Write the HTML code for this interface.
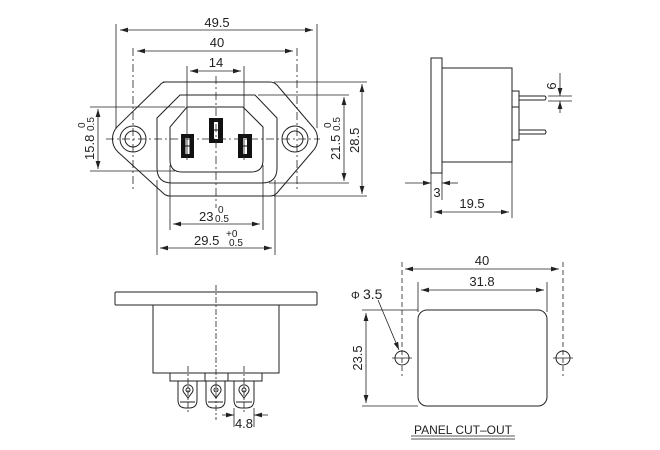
<!DOCTYPE html>
<html><head><meta charset="utf-8"><style>
html,body{margin:0;padding:0;background:#fff}
svg{display:block}
text{font-family:"Liberation Sans",sans-serif;fill:#222}
</style></head><body>
<svg width="660" height="450" viewBox="0 0 660 450" xmlns="http://www.w3.org/2000/svg">
<defs>
<marker id="a" viewBox="0 0 10 6" refX="10" refY="3" markerWidth="8" markerHeight="5" orient="auto-start-reverse" markerUnits="userSpaceOnUse"><path d="M0,0 L10,3 L0,6 z" fill="#222"/></marker>
</defs>
<g stroke="#222" stroke-width="1" fill="none">
<path d="M163,82 L270,82 Q274,82 277,85 L312,126 A18,18 0 0 1 312,152 L277,193 Q274,196 270,196 L170,196 Q166,196 163,193 L118,152 A18,18 0 0 1 118,126 L160,85 Q162,82 166,82 Z"/>
<path d="M180,95 L255,95 L277,118 L277,168 Q277,183 262,183 L172,183 Q157,183 157,168 L157,118 Z"/>
<path d="M187,107 L243,107 L263,127 L263,160 Q263,172 251,172 L182,172 Q170,172 170,160 L170,127 Z"/>
<circle cx="133" cy="139" r="13"/><circle cx="133" cy="139" r="8"/>
<circle cx="295" cy="139" r="13"/><circle cx="295" cy="139" r="8"/>
</g>
<g fill="#111">
<rect x="209" y="118" width="14" height="25"/>
<rect x="181" y="134" width="13" height="24"/>
<rect x="238" y="134" width="14" height="24"/>
</g>
<g fill="#fff"><rect x="214" y="122" width="4" height="17"/><rect x="185.5" y="138" width="4" height="16"/><rect x="243" y="138" width="4" height="16"/></g>
<g stroke="#111" stroke-width="1"><path d="M214,130 L218,130 M185.5,146 L189.5,146 M243,146 L247,146"/></g>
<g stroke="#222" stroke-width="0.8" fill="none">
<path d="M106,139 L320,139" stroke-dasharray="8,3,2,3"/>
<path d="M216,76 L216,208" stroke-dasharray="8,3,2,3"/>
<path d="M133,48 L133,190" stroke-dasharray="8,3,2,3"/>
<path d="M297,48 L297,190" stroke-dasharray="8,3,2,3"/>
<path d="M116,24 L116,128 M317,24 L317,128"/>
<path d="M187,66 L187,160 M244,66 L244,160"/>
<path d="M90,107 L185,107 M90,171 L175,171"/>
<path d="M258,95 L349,95 M269,183 L349,183"/>
<path d="M274,82 L367,82 M274,196 L367,196"/>
<path d="M170,165 L170,230 M263,165 L263,230"/>
<path d="M157,180 L157,255 M275,180 L275,255"/>
<path d="M120,30 L313,30" marker-start="url(#a)" marker-end="url(#a)"/>
<path d="M137,51 L293,51" marker-start="url(#a)" marker-end="url(#a)"/>
<path d="M190,71 L241,71" marker-start="url(#a)" marker-end="url(#a)"/>
<path d="M98,109 L98,169" marker-start="url(#a)" marker-end="url(#a)"/>
<path d="M344,97 L344,181" marker-start="url(#a)" marker-end="url(#a)"/>
<path d="M362,84 L362,194" marker-start="url(#a)" marker-end="url(#a)"/>
<path d="M173,224 L260,224" marker-start="url(#a)" marker-end="url(#a)"/>
<path d="M160,248 L272,248" marker-start="url(#a)" marker-end="url(#a)"/>
</g>
<g font-size="13">
<text x="217" y="27" text-anchor="middle">49.5</text>
<text x="217" y="47" text-anchor="middle">40</text>
<text x="216" y="67" text-anchor="middle">14</text>
<text x="199" y="221">23</text>
<text x="218" y="213" font-size="10">0</text>
<text x="215" y="222" font-size="10">0.5</text>
<text x="194" y="245">29.5</text>
<text x="226" y="237" font-size="10">+0</text>
<text x="229" y="246" font-size="10">0.5</text>
<text transform="translate(94,160) rotate(-90)">15.8</text>
<text transform="translate(85,128) rotate(-90)" font-size="10">0</text>
<text transform="translate(94,131) rotate(-90)" font-size="10">0.5</text>
<text transform="translate(340,160) rotate(-90)">21.5</text>
<text transform="translate(331,128) rotate(-90)" font-size="10">0</text>
<text transform="translate(340,131) rotate(-90)" font-size="10">0.5</text>
<text transform="translate(359,153) rotate(-90)">28.5</text>
</g>

<g stroke="#222" stroke-width="1" fill="none">
<rect x="431" y="58" width="11" height="115"/>
<rect x="442" y="68" width="70" height="94"/>
<rect x="512" y="91" width="7" height="49"/>
<path d="M512,107 L519,107"/>
<path d="M519,96 L545,96 Q547,98 545,100 L519,100"/>
<path d="M519,130 L545,130 Q547,132 545,134 L519,134"/>
</g>
<g stroke="#222" stroke-width="0.8" fill="none">
<path d="M548,96 L572,96 M548,101 L572,101"/>
<path d="M560,73 L560,96" marker-end="url(#a)"/>
<path d="M560,113 L560,101" marker-end="url(#a)"/>
<path d="M431,173 L431,218 M442,173 L442,200 M512,162 L512,218"/>
<path d="M405,183 L431,183" marker-end="url(#a)"/>
<path d="M458,183 L442,183" marker-end="url(#a)"/>
<path d="M434,212 L509,212" marker-start="url(#a)" marker-end="url(#a)"/>
</g>
<g font-size="13">
<text transform="translate(556,86) rotate(-90)" text-anchor="middle">6</text>
<text x="437" y="197" text-anchor="middle">3</text>
<text x="472" y="208" text-anchor="middle">19.5</text>
</g>

<g stroke="#222" stroke-width="1" fill="none">
<rect x="115" y="292" width="202" height="13" rx="1"/>
<rect x="153" y="305" width="126" height="68"/>
<rect x="170" y="373" width="92" height="8"/>
<path d="M205,373 L205,381 M228,373 L228,381"/>
<path d="M178,381 L178,400 Q178,408 186,408 L189,408 Q197,408 197,400 L197,381 M180,402 L195,402"/>
<path d="M206,381 L206,400 Q206,408 214,408 L217,408 Q225,408 225,400 L225,381 M208,402 L223,402"/>
<path d="M234,381 L234,400 Q234,408 242,408 L246,408 Q254,408 254,400 L254,381 M236,402 L252,402"/>
<path d="M183.5,392 A5,5 0 1 1 192.5,392 L188,398 Z"/>
<path d="M211.5,392 A5,5 0 1 1 220.5,392 L216,398 Z"/>
<path d="M239.5,392 A5,5 0 1 1 248.5,392 L244,398 Z"/>
<circle cx="188" cy="390" r="2"/><circle cx="216" cy="390" r="2"/><circle cx="244" cy="390" r="2"/>
</g>
<g stroke="#222" stroke-width="0.8" fill="none">
<path d="M216,285 L216,420" stroke-dasharray="6,2,2,2"/>
<path d="M188,366 L188,414" stroke-dasharray="6,2,2,2"/>
<path d="M244,366 L244,414" stroke-dasharray="6,2,2,2"/>
<path d="M234,408 L234,427 M254,408 L254,427"/>
<path d="M222,415 L234,415" marker-end="url(#a)"/>
<path d="M268,415 L254,415" marker-end="url(#a)"/>
</g>
<text x="244" y="428" font-size="13" text-anchor="middle">4.8</text>

<g stroke="#222" stroke-width="1" fill="none">
<rect x="418" y="310" width="129" height="96" rx="9"/>
<circle cx="402" cy="358" r="7"/>
<circle cx="563" cy="358" r="7"/>
</g>
<g stroke="#222" stroke-width="0.8" fill="none">
<path d="M402,262 L402,376 M563,262 L563,376" stroke-dasharray="5,3"/>
<path d="M392,358 L412,358 M553,358 L573,358"/>
<path d="M405,269 L559,269" marker-start="url(#a)" marker-end="url(#a)"/>
<path d="M418,282 L418,312 M547,282 L547,312"/>
<path d="M421,290 L544,290" marker-start="url(#a)" marker-end="url(#a)"/>
<path d="M362,310 L418,310 M362,406 L418,406"/>
<path d="M366,313 L366,403" marker-start="url(#a)" marker-end="url(#a)"/>
<path d="M378,300 L399,350" marker-end="url(#a)"/>
<path d="M411,436 L515,436 M411,439 L515,439"/>
</g>
<g font-size="13">
<text x="482" y="265" text-anchor="middle">40</text>
<text x="482" y="286" text-anchor="middle">31.8</text>
<text x="351" y="299" font-size="11">Φ</text>
<text x="363" y="299" font-size="14">3.5</text>
<text transform="translate(362,358) rotate(-90)" text-anchor="middle">23.5</text>
<text x="463" y="434" text-anchor="middle" font-size="12">PANEL CUT–OUT</text>
</g>
</svg>
</body></html>
